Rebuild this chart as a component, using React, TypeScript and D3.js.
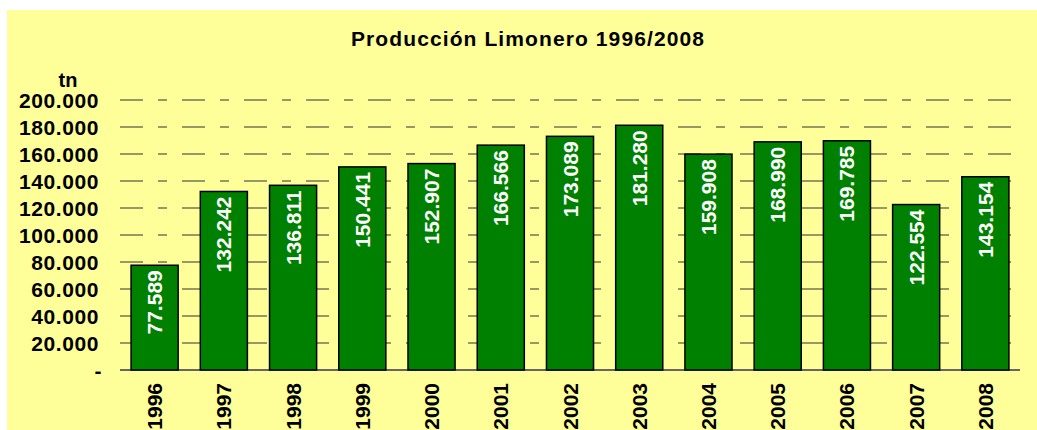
import React from "react";
import * as d3 from "d3";

// data
const years = ["1996", "1997", "1998", "1999", "2000", "2001", "2002", "2003", "2004", "2005", "2006", "2007", "2008"];
const production = [77589, 132242, 136811, 150441, 152907, 166566, 173089, 181280, 159908, 168990, 169785, 122554, 143154];
const yTicks = [0, 20000, 40000, 60000, 80000, 100000, 120000, 140000, 160000, 180000, 200000];

const W = 1037;
const H = 430;
const margin = { left: 120, right: 1020, top: 100, bottom: 370 };

const fmt = d3.formatLocale({ decimal: ",", thousands: ".", grouping: [3], currency: ["", ""] }).format(",d");

export default function App() {
  const x = d3.scaleBand().domain(years).range([margin.left, margin.right]).paddingInner(0.32).paddingOuter(0.16);
  const y = d3.scaleLinear().domain([0, 200000]).range([margin.bottom, margin.top]);
  const font = "'Liberation Sans', Arial, sans-serif";

  return (
    <svg width={W} height={H} style={{ position: "absolute", left: 0, top: 0 }} fontFamily={font}>
      <rect x={7} y={10} width={W - 7} height={H - 10} fill="#FFFF99" />
      <text x={528} y={46} textAnchor="middle" fontSize={21} fontWeight="bold" letterSpacing={1.1}>Producción Limonero 1996/2008</text>
      <text x={68} y={87} textAnchor="middle" fontSize={20} fontWeight="bold">tn</text>

      {/* gridlines */}
      {yTicks.filter(t => t > 0).map(t => (
        <line key={t} x1={margin.left} x2={margin.right} y1={y(t)} y2={y(t)}
          stroke="#333" strokeWidth={1.2} strokeDasharray="23 15 9 15" />
      ))}
      <line x1={margin.left} x2={margin.right} y1={y(0)} y2={y(0)} stroke="#666" strokeWidth={2} />

      {/* y labels */}
      {yTicks.map(t => (
        <text key={t} x={t === 0 ? 102 : 99} y={y(t) + 8} textAnchor="end" fontSize={21} fontWeight="bold" letterSpacing={0.6}>
          {t === 0 ? "-" : fmt(t)}
        </text>
      ))}

      {/* bars */}
      {production.map((v, i) => {
        const bx = x(years[i]) as number;
        const cx = bx + x.bandwidth() / 2;
        return (
          <g key={years[i]}>
            <rect x={bx} y={y(v)} width={x.bandwidth()} height={y(0) - y(v)} fill="#008000" stroke="#000" strokeWidth={1.5} />
            <text transform={`translate(${cx + 7.5},${y(v) + 5}) rotate(-90)`} textAnchor="end" fill="#fff" fontSize={21} fontWeight="bold">
              {fmt(v)}
            </text>
            <text transform={`translate(${cx + 7.5},${383}) rotate(-90)`} textAnchor="end" fill="#000" fontSize={21} fontWeight="bold">
              {years[i]}
            </text>
          </g>
        );
      })}
    </svg>
  );
}
